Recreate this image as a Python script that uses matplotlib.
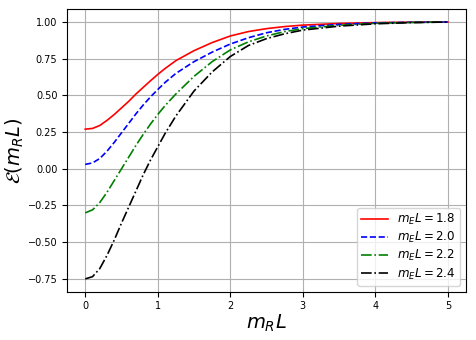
import matplotlib
matplotlib.use("Agg")
from matplotlib import pyplot as plt

# values
x = [0.0, 0.1, 0.2, 0.3, 0.4, 0.5, 0.6, 0.7, 0.8, 0.9, 1.0, 1.1, 1.25, 1.5, 1.75,
     2.0, 2.25, 2.5, 2.75, 3.0, 3.5, 4.0, 4.5, 5.0]
e18 = [0.27, 0.275, 0.295, 0.33, 0.37, 0.415, 0.46, 0.51, 0.555, 0.60, 0.643, 0.683, 0.737, 0.805, 0.86,
       0.905, 0.935, 0.955, 0.969, 0.979, 0.99, 0.996, 0.999, 1.0]
e20 = [0.03, 0.04, 0.07, 0.12, 0.18, 0.245, 0.31, 0.375, 0.435, 0.49, 0.54, 0.588, 0.65, 0.73, 0.795,
       0.85, 0.893, 0.927, 0.95, 0.966, 0.984, 0.994, 0.998, 1.0]
e22 = [-0.30, -0.28, -0.23, -0.16, -0.08, 0.0, 0.08, 0.16, 0.235, 0.305, 0.37, 0.43, 0.51, 0.63, 0.73,
       0.81, 0.865, 0.905, 0.935, 0.955, 0.978, 0.991, 0.997, 1.0]
e24 = [-0.75, -0.735, -0.68, -0.59, -0.485, -0.37, -0.26, -0.15, -0.04, 0.06, 0.15, 0.24, 0.36, 0.53, 0.66,
       0.765, 0.84, 0.887, 0.92, 0.945, 0.972, 0.988, 0.996, 1.0]
labels = [r'$m_E L = 1.8$', r'$m_E L = 2.0$', r'$m_E L = 2.2$', r'$m_E L = 2.4$']

fig = plt.figure(figsize=(4.76, 3.4), dpi=100)
ax = fig.add_axes([0.141, 0.142, 0.838, 0.831])

ax.plot(x, e18, 'r-', lw=1.2, label=labels[0])
ax.plot(x, e20, 'b--', lw=1.2, label=labels[1])
ax.plot(x, e22, 'g-.', lw=1.2, label=labels[2])
ax.plot(x, e24, 'k-.', lw=1.2, label=labels[3])

ax.set_xlabel(r'$m_R L$', fontsize=14, labelpad=1)
ax.set_ylabel(r'$\mathcal{E}(m_R L)$', fontsize=14, labelpad=1)
ax.set_yticks([-0.75, -0.5, -0.25, 0.0, 0.25, 0.5, 0.75, 1.0])
ax.tick_params(labelsize=7)
ax.grid(True)
ax.legend(loc='lower right', fontsize=8.6, handlelength=2.2, labelspacing=0.25,
          borderpad=0.35)

fig.savefig('out.png', dpi=100)
